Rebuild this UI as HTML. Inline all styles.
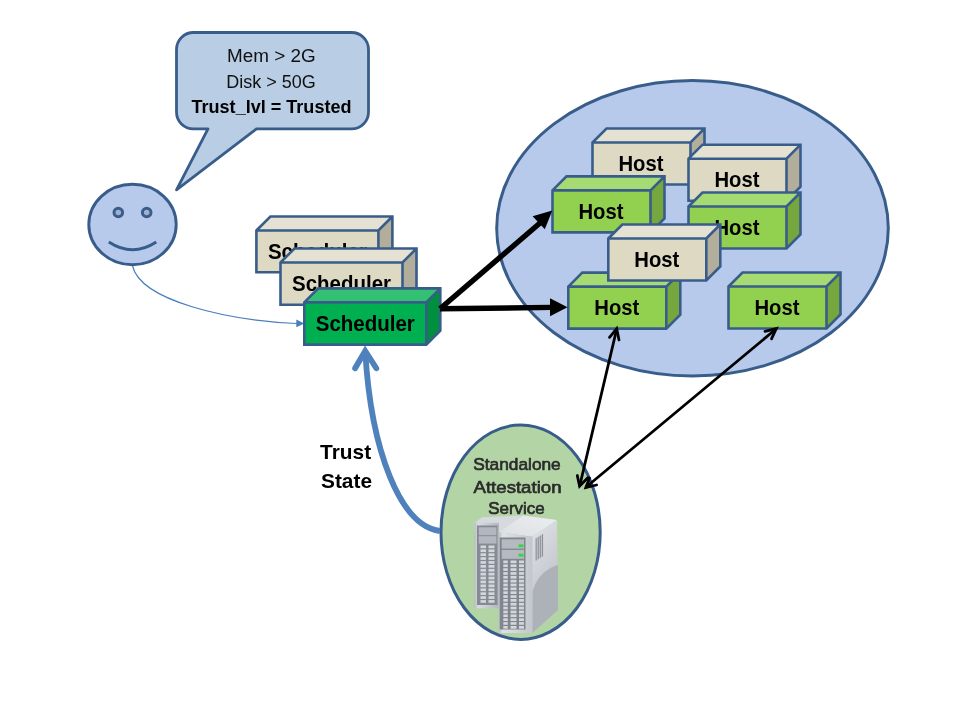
<!DOCTYPE html>
<html><head><meta charset="utf-8"><style>
html,body{margin:0;padding:0;background:#fff;}
svg{display:block;font-family:"Liberation Sans",sans-serif;will-change:transform;}
</style></head><body>
<svg width="960" height="720" viewBox="0 0 960 720">
<rect width="960" height="720" fill="#fff"/>
<!-- callout -->
<path d="M193.5,32.5 L351.5,32.5 A17,17 0 0 1 368.5,49.5 L368.5,111.9 A17,17 0 0 1 351.5,128.9 L256.5,128.9 L176.5,189.8 L208,128.9 L193.5,128.9 A17,17 0 0 1 176.5,111.9 L176.5,49.5 A17,17 0 0 1 193.5,32.5 Z" fill="#b9cde5" stroke="#385d8a" stroke-width="2.8" stroke-linejoin="round"/>
<text x="271.4" y="62" text-anchor="middle" font-size="18" fill="#111" textLength="88.6" lengthAdjust="spacingAndGlyphs">Mem &gt; 2G</text>
<text x="271" y="87.7" text-anchor="middle" font-size="18" fill="#111" textLength="89.5" lengthAdjust="spacingAndGlyphs">Disk &gt; 50G</text>
<text x="271.5" y="112.8" text-anchor="middle" font-size="18" font-weight="bold" textLength="160" lengthAdjust="spacingAndGlyphs">Trust_lvl = Trusted</text>
<!-- face -->
<ellipse cx="132.5" cy="224.5" rx="43.7" ry="40.2" fill="#b7caeb" stroke="#385d8a" stroke-width="2.9"/>
<circle cx="118.3" cy="212.5" r="4.3" fill="#a3aecb" stroke="#385d8a" stroke-width="3"/>
<circle cx="146.7" cy="212.5" r="4.3" fill="#a3aecb" stroke="#385d8a" stroke-width="3"/>
<path d="M108.8,242 Q132.5,257.5 156.3,242" fill="none" stroke="#385d8a" stroke-width="2.9"/>
<!-- connector -->
<path d="M132.5,266 C141,301 228,320.5 297,323.5" fill="none" stroke="#4a7ebb" stroke-width="1.2"/>
<path d="M304.2,323.5 L296.3,319.6 L296.3,327.3 Z" fill="#4a7ebb"/>
<!-- big ellipse -->
<ellipse cx="692.5" cy="228.3" rx="195.8" ry="147.7" fill="#b7caeb" stroke="#385d8a" stroke-width="3"/>
<!-- attestation ellipse -->
<ellipse cx="520.6" cy="532.2" rx="79.6" ry="107.2" fill="#b3d5a6" stroke="#385d8a" stroke-width="3"/>
<defs>
<linearGradient id="sside" x1="0" y1="0" x2="0.35" y2="1">
<stop offset="0" stop-color="#e2e5e9"/><stop offset="0.6" stop-color="#c9cdd3"/><stop offset="1" stop-color="#b9bec5"/>
</linearGradient>
<linearGradient id="sfront" x1="0" y1="0" x2="1" y2="0">
<stop offset="0" stop-color="#b9bec5"/><stop offset="0.12" stop-color="#dfe2e6"/><stop offset="1" stop-color="#c3c7cd"/>
</linearGradient>
<linearGradient id="bfront" x1="0" y1="0" x2="1" y2="0">
<stop offset="0" stop-color="#b8bcc3"/><stop offset="0.15" stop-color="#d8dbdf"/><stop offset="1" stop-color="#b3b8bf"/>
</linearGradient>
<linearGradient id="stop" x1="0" y1="1" x2="1" y2="0">
<stop offset="0" stop-color="#dcdfe3"/><stop offset="1" stop-color="#eceef1"/>
</linearGradient>
</defs>
<path d="M474.5,523 L482,517.2 L525,515.3 L498.7,532.3 L474.5,531 Z" fill="#d6d9de"/>
<rect x="474.5" y="522.8" width="24.5" height="85.5" fill="url(#bfront)"/>
<rect x="477" y="525.5" width="20.5" height="79.5" fill="#858b93"/>
<rect x="478.8" y="527.3" width="17.6" height="7.9" fill="#b3b8bf"/>
<rect x="478.8" y="536.2" width="17.6" height="7.4" fill="#b3b8bf"/>
<rect x="480.5" y="545.5" width="5.5" height="2.7" fill="#d3d6db"/>
<rect x="488.5" y="545.5" width="6" height="2.7" fill="#d3d6db"/>
<rect x="480.5" y="549.4" width="5.5" height="2.7" fill="#d3d6db"/>
<rect x="488.5" y="549.4" width="6" height="2.7" fill="#d3d6db"/>
<rect x="480.5" y="553.3" width="5.5" height="2.7" fill="#d3d6db"/>
<rect x="488.5" y="553.3" width="6" height="2.7" fill="#d3d6db"/>
<rect x="480.5" y="557.2" width="5.5" height="2.7" fill="#d3d6db"/>
<rect x="488.5" y="557.2" width="6" height="2.7" fill="#d3d6db"/>
<rect x="480.5" y="561.1" width="5.5" height="2.7" fill="#d3d6db"/>
<rect x="488.5" y="561.1" width="6" height="2.7" fill="#d3d6db"/>
<rect x="480.5" y="565.0" width="5.5" height="2.7" fill="#d3d6db"/>
<rect x="488.5" y="565.0" width="6" height="2.7" fill="#d3d6db"/>
<rect x="480.5" y="568.9" width="5.5" height="2.7" fill="#d3d6db"/>
<rect x="488.5" y="568.9" width="6" height="2.7" fill="#d3d6db"/>
<rect x="480.5" y="572.8" width="5.5" height="2.7" fill="#d3d6db"/>
<rect x="488.5" y="572.8" width="6" height="2.7" fill="#d3d6db"/>
<rect x="480.5" y="576.7" width="5.5" height="2.7" fill="#d3d6db"/>
<rect x="488.5" y="576.7" width="6" height="2.7" fill="#d3d6db"/>
<rect x="480.5" y="580.6" width="5.5" height="2.7" fill="#d3d6db"/>
<rect x="488.5" y="580.6" width="6" height="2.7" fill="#d3d6db"/>
<rect x="480.5" y="584.5" width="5.5" height="2.7" fill="#d3d6db"/>
<rect x="488.5" y="584.5" width="6" height="2.7" fill="#d3d6db"/>
<rect x="480.5" y="588.4" width="5.5" height="2.7" fill="#d3d6db"/>
<rect x="488.5" y="588.4" width="6" height="2.7" fill="#d3d6db"/>
<rect x="480.5" y="592.3" width="5.5" height="2.7" fill="#d3d6db"/>
<rect x="488.5" y="592.3" width="6" height="2.7" fill="#d3d6db"/>
<rect x="480.5" y="596.2" width="5.5" height="2.7" fill="#d3d6db"/>
<rect x="488.5" y="596.2" width="6" height="2.7" fill="#d3d6db"/>
<rect x="480.5" y="600.1" width="5.5" height="2.7" fill="#d3d6db"/>
<rect x="488.5" y="600.1" width="6" height="2.7" fill="#d3d6db"/>
<path d="M498.7,532.3 L523.3,515.5 L557,519.9 L532.4,536.7 Z" fill="url(#stop)"/>
<path d="M532.4,536.7 L557,519.9 L558,610 L530,633 Z" fill="url(#sside)"/>
<path d="M532.4,592 C537,575 548,568 558,565 L558,610 L532.4,633 Z" fill="#adb2b9"/>
<path d="M535.3,538.5 L543.3,533.5 L543.3,556 L535.3,561 Z" fill="#c1c5cb"/>
<line x1="536.2" y1="538.3" x2="536.2" y2="560.5" stroke="#858b93" stroke-width="0.9"/>
<line x1="538.3" y1="537.0" x2="538.3" y2="559.2" stroke="#858b93" stroke-width="0.9"/>
<line x1="540.4" y1="535.7" x2="540.4" y2="557.9" stroke="#858b93" stroke-width="0.9"/>
<line x1="542.5" y1="534.4" x2="542.5" y2="556.6" stroke="#858b93" stroke-width="0.9"/>
<path d="M498.7,532.3 L532.4,536.7 L532.4,633 L498.7,633 Z" fill="url(#sfront)"/>
<rect x="499.7" y="537.5" width="25.8" height="92" fill="#80868e"/>
<rect x="501.7" y="539.3" width="22.3" height="9.3" fill="#b5bac1"/>
<rect x="501.7" y="549.9" width="22.3" height="8.9" fill="#b5bac1"/>
<rect x="518.5" y="544.4" width="5" height="2.8" fill="#35d63f"/>
<rect x="518.5" y="553.8" width="5" height="2.8" fill="#35d63f"/>
<rect x="503.3" y="560.5" width="4.5" height="2.7" fill="#d3d6db"/>
<rect x="510.5" y="560.5" width="6" height="2.7" fill="#d3d6db"/>
<rect x="519" y="560.5" width="5" height="2.7" fill="#d3d6db"/>
<rect x="503.3" y="564.4" width="4.5" height="2.7" fill="#d3d6db"/>
<rect x="510.5" y="564.4" width="6" height="2.7" fill="#d3d6db"/>
<rect x="519" y="564.4" width="5" height="2.7" fill="#d3d6db"/>
<rect x="503.3" y="568.2" width="4.5" height="2.7" fill="#d3d6db"/>
<rect x="510.5" y="568.2" width="6" height="2.7" fill="#d3d6db"/>
<rect x="519" y="568.2" width="5" height="2.7" fill="#d3d6db"/>
<rect x="503.3" y="572.1" width="4.5" height="2.7" fill="#d3d6db"/>
<rect x="510.5" y="572.1" width="6" height="2.7" fill="#d3d6db"/>
<rect x="519" y="572.1" width="5" height="2.7" fill="#d3d6db"/>
<rect x="503.3" y="575.9" width="4.5" height="2.7" fill="#d3d6db"/>
<rect x="510.5" y="575.9" width="6" height="2.7" fill="#d3d6db"/>
<rect x="519" y="575.9" width="5" height="2.7" fill="#d3d6db"/>
<rect x="503.3" y="579.8" width="4.5" height="2.7" fill="#d3d6db"/>
<rect x="510.5" y="579.8" width="6" height="2.7" fill="#d3d6db"/>
<rect x="519" y="579.8" width="5" height="2.7" fill="#d3d6db"/>
<rect x="503.3" y="583.6" width="4.5" height="2.7" fill="#d3d6db"/>
<rect x="510.5" y="583.6" width="6" height="2.7" fill="#d3d6db"/>
<rect x="519" y="583.6" width="5" height="2.7" fill="#d3d6db"/>
<rect x="503.3" y="587.5" width="4.5" height="2.7" fill="#d3d6db"/>
<rect x="510.5" y="587.5" width="6" height="2.7" fill="#d3d6db"/>
<rect x="519" y="587.5" width="5" height="2.7" fill="#d3d6db"/>
<rect x="503.3" y="591.3" width="4.5" height="2.7" fill="#d3d6db"/>
<rect x="510.5" y="591.3" width="6" height="2.7" fill="#d3d6db"/>
<rect x="519" y="591.3" width="5" height="2.7" fill="#d3d6db"/>
<rect x="503.3" y="595.2" width="4.5" height="2.7" fill="#d3d6db"/>
<rect x="510.5" y="595.2" width="6" height="2.7" fill="#d3d6db"/>
<rect x="519" y="595.2" width="5" height="2.7" fill="#d3d6db"/>
<rect x="503.3" y="599.0" width="4.5" height="2.7" fill="#d3d6db"/>
<rect x="510.5" y="599.0" width="6" height="2.7" fill="#d3d6db"/>
<rect x="519" y="599.0" width="5" height="2.7" fill="#d3d6db"/>
<rect x="503.3" y="602.9" width="4.5" height="2.7" fill="#d3d6db"/>
<rect x="510.5" y="602.9" width="6" height="2.7" fill="#d3d6db"/>
<rect x="519" y="602.9" width="5" height="2.7" fill="#d3d6db"/>
<rect x="503.3" y="606.7" width="4.5" height="2.7" fill="#d3d6db"/>
<rect x="510.5" y="606.7" width="6" height="2.7" fill="#d3d6db"/>
<rect x="519" y="606.7" width="5" height="2.7" fill="#d3d6db"/>
<rect x="503.3" y="610.6" width="4.5" height="2.7" fill="#d3d6db"/>
<rect x="510.5" y="610.6" width="6" height="2.7" fill="#d3d6db"/>
<rect x="519" y="610.6" width="5" height="2.7" fill="#d3d6db"/>
<rect x="503.3" y="614.4" width="4.5" height="2.7" fill="#d3d6db"/>
<rect x="510.5" y="614.4" width="6" height="2.7" fill="#d3d6db"/>
<rect x="519" y="614.4" width="5" height="2.7" fill="#d3d6db"/>
<rect x="503.3" y="618.3" width="4.5" height="2.7" fill="#d3d6db"/>
<rect x="510.5" y="618.3" width="6" height="2.7" fill="#d3d6db"/>
<rect x="519" y="618.3" width="5" height="2.7" fill="#d3d6db"/>
<rect x="503.3" y="622.1" width="4.5" height="2.7" fill="#d3d6db"/>
<rect x="510.5" y="622.1" width="6" height="2.7" fill="#d3d6db"/>
<rect x="519" y="622.1" width="5" height="2.7" fill="#d3d6db"/>
<rect x="503.3" y="626.0" width="4.5" height="2.7" fill="#d3d6db"/>
<rect x="510.5" y="626.0" width="6" height="2.7" fill="#d3d6db"/>
<rect x="519" y="626.0" width="5" height="2.7" fill="#d3d6db"/>
<!-- schedulers -->
<path d="M256.4,230.5 L270.4,216.5 L392.4,216.5 L378.4,230.5 Z" fill="#e5e2d3"/>
<path d="M378.4,230.5 L392.4,216.5 L392.4,258.3 L378.4,272.3 Z" fill="#b3ae9b"/>
<rect x="256.4" y="230.5" width="122" height="41.8" fill="#ddd9c3"/>
<path d="M256.4,230.5 L270.4,216.5 L392.4,216.5 L392.4,258.3 L378.4,272.3 L256.4,272.3 Z M256.4,230.5 L378.4,230.5 L392.4,216.5 M378.4,230.5 L378.4,272.3" fill="none" stroke="#385d8a" stroke-width="2.6"/>
<text x="317.40" y="258.97" text-anchor="middle" font-size="22" font-weight="bold" textLength="99" lengthAdjust="spacingAndGlyphs">Scheduler</text>
<path d="M280.5,262.5 L294.5,248.5 L416.5,248.5 L402.5,262.5 Z" fill="#e5e2d3"/>
<path d="M402.5,262.5 L416.5,248.5 L416.5,290.8 L402.5,304.8 Z" fill="#b3ae9b"/>
<rect x="280.5" y="262.5" width="122" height="42.3" fill="#ddd9c3"/>
<path d="M280.5,262.5 L294.5,248.5 L416.5,248.5 L416.5,290.8 L402.5,304.8 L280.5,304.8 Z M280.5,262.5 L402.5,262.5 L416.5,248.5 M402.5,262.5 L402.5,304.8" fill="none" stroke="#385d8a" stroke-width="2.6"/>
<text x="341.50" y="291.22" text-anchor="middle" font-size="22" font-weight="bold" textLength="99" lengthAdjust="spacingAndGlyphs">Scheduler</text>
<path d="M304.3,302.4 L318.3,288.4 L440.3,288.4 L426.3,302.4 Z" fill="#33c072"/>
<path d="M426.3,302.4 L440.3,288.4 L440.3,330.59999999999997 L426.3,344.59999999999997 Z" fill="#008f3f"/>
<rect x="304.3" y="302.4" width="122" height="42.2" fill="#00b050"/>
<path d="M304.3,302.4 L318.3,288.4 L440.3,288.4 L440.3,330.59999999999997 L426.3,344.59999999999997 L304.3,344.59999999999997 Z M304.3,302.4 L426.3,302.4 L440.3,288.4 M426.3,302.4 L426.3,344.59999999999997" fill="none" stroke="#385d8a" stroke-width="2.6"/>
<text x="365.30" y="331.07" text-anchor="middle" font-size="22" font-weight="bold" textLength="99" lengthAdjust="spacingAndGlyphs">Scheduler</text>
<!-- hosts -->
<path d="M592.5,142.5 L606.5,128.5 L704.5,128.5 L690.5,142.5 Z" fill="#e5e2d3"/>
<path d="M690.5,142.5 L704.5,128.5 L704.5,170.5 L690.5,184.5 Z" fill="#b3ae9b"/>
<rect x="592.5" y="142.5" width="98" height="42" fill="#ddd9c3"/>
<path d="M592.5,142.5 L606.5,128.5 L704.5,128.5 L704.5,170.5 L690.5,184.5 L592.5,184.5 Z M592.5,142.5 L690.5,142.5 L704.5,128.5 M690.5,142.5 L690.5,184.5" fill="none" stroke="#385d8a" stroke-width="2.6"/>
<text x="641.00" y="170.67" text-anchor="middle" font-size="22" font-weight="bold" textLength="45" lengthAdjust="spacingAndGlyphs">Host</text>
<path d="M688.5,158.7 L702.5,144.7 L800.5,144.7 L786.5,158.7 Z" fill="#e5e2d3"/>
<path d="M786.5,158.7 L800.5,144.7 L800.5,186.7 L786.5,200.7 Z" fill="#b3ae9b"/>
<rect x="688.5" y="158.7" width="98" height="42" fill="#ddd9c3"/>
<path d="M688.5,158.7 L702.5,144.7 L800.5,144.7 L800.5,186.7 L786.5,200.7 L688.5,200.7 Z M688.5,158.7 L786.5,158.7 L800.5,144.7 M786.5,158.7 L786.5,200.7" fill="none" stroke="#385d8a" stroke-width="2.6"/>
<text x="737.00" y="186.87" text-anchor="middle" font-size="22" font-weight="bold" textLength="45" lengthAdjust="spacingAndGlyphs">Host</text>
<path d="M552.5,190.4 L566.5,176.4 L664.5,176.4 L650.5,190.4 Z" fill="#a6da72"/>
<path d="M650.5,190.4 L664.5,176.4 L664.5,218.4 L650.5,232.4 Z" fill="#76a73f"/>
<rect x="552.5" y="190.4" width="98" height="42" fill="#92d050"/>
<path d="M552.5,190.4 L566.5,176.4 L664.5,176.4 L664.5,218.4 L650.5,232.4 L552.5,232.4 Z M552.5,190.4 L650.5,190.4 L664.5,176.4 M650.5,190.4 L650.5,232.4" fill="none" stroke="#385d8a" stroke-width="2.6"/>
<text x="601.00" y="218.57" text-anchor="middle" font-size="22" font-weight="bold" textLength="45" lengthAdjust="spacingAndGlyphs">Host</text>
<path d="M688.5,206.5 L702.5,192.5 L800.5,192.5 L786.5,206.5 Z" fill="#a6da72"/>
<path d="M786.5,206.5 L800.5,192.5 L800.5,234.5 L786.5,248.5 Z" fill="#76a73f"/>
<rect x="688.5" y="206.5" width="98" height="42" fill="#92d050"/>
<path d="M688.5,206.5 L702.5,192.5 L800.5,192.5 L800.5,234.5 L786.5,248.5 L688.5,248.5 Z M688.5,206.5 L786.5,206.5 L800.5,192.5 M786.5,206.5 L786.5,248.5" fill="none" stroke="#385d8a" stroke-width="2.6"/>
<text x="737.00" y="234.67" text-anchor="middle" font-size="22" font-weight="bold" textLength="45" lengthAdjust="spacingAndGlyphs">Host</text>
<path d="M568.3,286.6 L582.3,272.6 L680.3,272.6 L666.3,286.6 Z" fill="#a6da72"/>
<path d="M666.3,286.6 L680.3,272.6 L680.3,314.6 L666.3,328.6 Z" fill="#76a73f"/>
<rect x="568.3" y="286.6" width="98" height="42" fill="#92d050"/>
<path d="M568.3,286.6 L582.3,272.6 L680.3,272.6 L680.3,314.6 L666.3,328.6 L568.3,328.6 Z M568.3,286.6 L666.3,286.6 L680.3,272.6 M666.3,286.6 L666.3,328.6" fill="none" stroke="#385d8a" stroke-width="2.6"/>
<text x="616.80" y="314.77" text-anchor="middle" font-size="22" font-weight="bold" textLength="45" lengthAdjust="spacingAndGlyphs">Host</text>
<path d="M608.3,238.5 L622.3,224.5 L720.3,224.5 L706.3,238.5 Z" fill="#e5e2d3"/>
<path d="M706.3,238.5 L720.3,224.5 L720.3,266.5 L706.3,280.5 Z" fill="#b3ae9b"/>
<rect x="608.3" y="238.5" width="98" height="42" fill="#ddd9c3"/>
<path d="M608.3,238.5 L622.3,224.5 L720.3,224.5 L720.3,266.5 L706.3,280.5 L608.3,280.5 Z M608.3,238.5 L706.3,238.5 L720.3,224.5 M706.3,238.5 L706.3,280.5" fill="none" stroke="#385d8a" stroke-width="2.6"/>
<text x="656.80" y="266.67" text-anchor="middle" font-size="22" font-weight="bold" textLength="45" lengthAdjust="spacingAndGlyphs">Host</text>
<path d="M728.5,286.5 L742.5,272.5 L840.5,272.5 L826.5,286.5 Z" fill="#a6da72"/>
<path d="M826.5,286.5 L840.5,272.5 L840.5,314.5 L826.5,328.5 Z" fill="#76a73f"/>
<rect x="728.5" y="286.5" width="98" height="42" fill="#92d050"/>
<path d="M728.5,286.5 L742.5,272.5 L840.5,272.5 L840.5,314.5 L826.5,328.5 L728.5,328.5 Z M728.5,286.5 L826.5,286.5 L840.5,272.5 M826.5,286.5 L826.5,328.5" fill="none" stroke="#385d8a" stroke-width="2.6"/>
<text x="777.00" y="314.67" text-anchor="middle" font-size="22" font-weight="bold" textLength="45" lengthAdjust="spacingAndGlyphs">Host</text>
<!-- black arrows -->
<path d="M440,308.8 L540,223" stroke="#000" stroke-width="5.4" fill="none"/>
<path d="M552.3,210.6 L532.6,216.3 L544.8,229.3 Z" fill="#000"/>
<path d="M440,308.8 L552,307.4" stroke="#000" stroke-width="5.4" fill="none"/>
<path d="M567.5,307.3 L550,298.3 L550,316.2 Z" fill="#000"/>
<!-- thin double arrows -->
<g stroke="#000" stroke-width="2.8" fill="none" stroke-linejoin="miter" stroke-linecap="round">
<path d="M616.6,329.5 L579.8,485.5"/>
<path d="M776,329 L586.2,487"/>
<path d="M609.5,337.3 L616.7,328.6 L619,340"/>
<path d="M765,331.3 L776.3,328.6 L771.5,338.8"/>
<path d="M577.3,475.5 L579.6,486.2 L587.8,477.7"/>
<path d="M589.5,478 L585.9,487.6 L596.6,485"/>
</g>
<!-- trust arrow -->
<path d="M440,531 C400,526 371,450 365.3,352" fill="none" stroke="#4f81bd" stroke-width="5.8"/>
<path d="M355.1,368.3 L365.2,351 L376.3,368.3" fill="none" stroke="#4f81bd" stroke-width="5.8" stroke-linecap="round" stroke-linejoin="miter" stroke-miterlimit="10"/>
<text x="345.6" y="458.8" text-anchor="middle" font-size="21" font-weight="bold" textLength="51" lengthAdjust="spacingAndGlyphs">Trust</text>
<text x="346.5" y="488.1" text-anchor="middle" font-size="21" font-weight="bold" textLength="51" lengthAdjust="spacingAndGlyphs">State</text>
<text x="517" y="469.9" text-anchor="middle" font-size="16.5" fill="#2b2b2b" stroke="#2b2b2b" stroke-width="0.65" textLength="87.5" lengthAdjust="spacingAndGlyphs">Standalone</text>
<text x="517.5" y="492.8" text-anchor="middle" font-size="16.5" fill="#2b2b2b" stroke="#2b2b2b" stroke-width="0.65" textLength="88" lengthAdjust="spacingAndGlyphs">Attestation</text>
<text x="516.5" y="514.4" text-anchor="middle" font-size="16.5" fill="#2b2b2b" stroke="#2b2b2b" stroke-width="0.65" textLength="56.5" lengthAdjust="spacingAndGlyphs">Service</text>
</svg>
</body></html>
